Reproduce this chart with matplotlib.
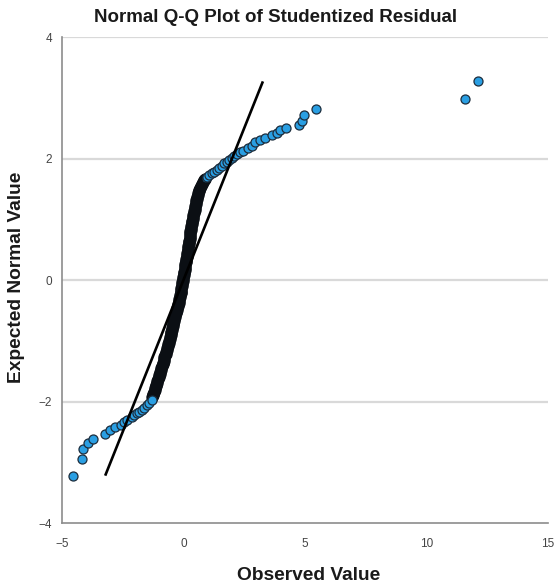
import matplotlib
matplotlib.use('Agg')
import matplotlib.pyplot as plt
import numpy as np

plt.rcParams['font.family'] = ['Liberation Sans', 'DejaVu Sans']

# lower tail (observed, expected)
low_obs = [-4.53, -4.19, -4.12, -3.92, -3.71, -3.23, -3.02, -2.82, -2.57, -2.45,
           -2.34, -2.13, -2.03, -1.93, -1.82, -1.72, -1.62, -1.51, -1.41, -1.31]
low_exp = [-3.23, -2.94, -2.78, -2.69, -2.61, -2.54, -2.47, -2.42, -2.38, -2.34,
           -2.30, -2.25, -2.22, -2.19, -2.17, -2.14, -2.10, -2.06, -2.02, -1.98]

# dense middle part of the curve
mid_exp = [-1.93, -1.90, -1.87, -1.84, -1.81, -1.78, -1.75, -1.72, -1.69, -1.66,
           -1.63, -1.60, -1.57, -1.54, -1.51, -1.48, -1.45, -1.42, -1.39, -1.36,
           -1.33, -1.30, -1.27, -1.24, -1.21, -1.18, -1.15, -1.12, -1.09, -1.06,
           -1.03, -1.00, -0.97, -0.94, -0.91, -0.88, -0.85, -0.82, -0.79, -0.76,
           -0.73, -0.70, -0.67, -0.64, -0.61, -0.58, -0.55, -0.52, -0.49, -0.46,
           -0.43, -0.40, -0.37, -0.34, -0.31, -0.28, -0.25, -0.22, -0.19, -0.16,
           -0.13, -0.10, -0.07, -0.04, -0.01, 0.02, 0.05, 0.08, 0.11, 0.14,
           0.17, 0.20, 0.23, 0.26, 0.29, 0.32, 0.35, 0.38, 0.41, 0.44,
           0.47, 0.50, 0.53, 0.56, 0.59, 0.62, 0.65, 0.68, 0.71, 0.74,
           0.77, 0.80, 0.83, 0.86, 0.89, 0.92, 0.95, 0.98, 1.01, 1.04,
           1.07, 1.10, 1.13, 1.16, 1.19, 1.22, 1.25, 1.28, 1.31, 1.34,
           1.37, 1.40, 1.43, 1.46, 1.49, 1.52, 1.55, 1.58, 1.61, 1.64, 1.67]
mid_obs = [-1.29, -1.26, -1.24, -1.21, -1.19, -1.17, -1.14, -1.12, -1.09, -1.07,
           -1.05, -1.02, -1.00, -0.97, -0.95, -0.93, -0.91, -0.88, -0.86, -0.84,
           -0.82, -0.80, -0.78, -0.75, -0.73, -0.71, -0.69, -0.67, -0.65, -0.63,
           -0.61, -0.59, -0.57, -0.55, -0.53, -0.52, -0.50, -0.48, -0.46, -0.45,
           -0.43, -0.41, -0.39, -0.37, -0.36, -0.34, -0.32, -0.30, -0.28, -0.26,
           -0.24, -0.22, -0.20, -0.18, -0.17, -0.15, -0.14, -0.12, -0.11, -0.09,
           -0.08, -0.07, -0.05, -0.04, -0.02, -0.01, 0.00, 0.01, 0.02, 0.04,
           0.05, 0.06, 0.07, 0.08, 0.10, 0.11, 0.12, 0.13, 0.14, 0.16,
           0.17, 0.18, 0.19, 0.20, 0.21, 0.22, 0.24, 0.25, 0.26, 0.27,
           0.28, 0.29, 0.31, 0.32, 0.33, 0.35, 0.36, 0.37, 0.38, 0.40,
           0.41, 0.43, 0.44, 0.46, 0.47, 0.49, 0.50, 0.52, 0.53, 0.55,
           0.57, 0.59, 0.61, 0.63, 0.65, 0.68, 0.71, 0.75, 0.79, 0.83, 0.88]

# upper tail
up_obs = [0.95, 1.06, 1.16, 1.27, 1.37, 1.47, 1.57, 1.68, 1.78, 1.88,
          1.98, 2.08, 2.19, 2.32, 2.44, 2.67, 2.81, 2.94, 3.15, 3.35,
          3.63, 3.86, 3.97, 4.22, 4.77, 4.88, 4.97, 5.44, 11.58, 12.12]
up_exp = [1.70, 1.73, 1.76, 1.78, 1.81, 1.85, 1.88, 1.92, 1.95, 1.98,
          2.01, 2.04, 2.07, 2.10, 2.12, 2.17, 2.21, 2.28, 2.30, 2.33,
          2.38, 2.42, 2.47, 2.50, 2.55, 2.62, 2.72, 2.81, 2.98, 3.28]

ref_line = [-3.2, 3.25]

fig = plt.figure(figsize=(5.58, 5.88), dpi=100)
ax = fig.add_axes([0.111, 0.1105, 0.871, 0.8265])

for yv in [-2, 0, 2, 4]:
    ax.axhline(yv, color='#d9d9d9', linewidth=1.6, zorder=0)

# the middle is so crowded that the marker edges merge into a dark band
ax.plot(mid_obs, mid_exp, 'o', markersize=6.5, markerfacecolor='#1a5f8a',
        markeredgecolor='#0b0f14', markeredgewidth=2.4, zorder=2)
ax.plot(low_obs, low_exp, 'o', markersize=6.5, markerfacecolor='#2a9fe3',
        markeredgecolor='#1c2d3d', markeredgewidth=0.9, zorder=2)
ax.plot(up_obs, up_exp, 'o', markersize=6.5, markerfacecolor='#2a9fe3',
        markeredgecolor='#1c2d3d', markeredgewidth=0.9, zorder=2)
ax.plot(ref_line, ref_line, color='black', linewidth=1.9, zorder=3)

ax.set_xlim(-5, 15)
ax.set_ylim(-4, 4)
ax.set_xticks([-5, 0, 5, 10, 15])
ax.set_yticks([-4, -2, 0, 2, 4])
ax.tick_params(length=0, labelsize=8.5, colors='#444444')
ax.tick_params(axis='x', pad=11)
ax.tick_params(axis='y', pad=7)
for s in ['top', 'right']:
    ax.spines[s].set_visible(False)
for s in ['left', 'bottom']:
    ax.spines[s].set_color('#8c8c8c')
    ax.spines[s].set_linewidth(1.2)

fig.text(0.493, 1 - 18 / 588, 'Normal Q-Q Plot of Studentized Residual',
         ha='center', va='center', fontsize=13.5, fontweight='bold', color='#1a1a1a')
fig.text(0.553, 1 - 576 / 588, 'Observed Value', ha='center', va='center',
         fontsize=13.8, fontweight='bold', color='#1a1a1a')
fig.text(17 / 558, 1 - 277 / 588, 'Expected Normal Value', ha='center', va='center',
         rotation=90, fontsize=13.8, fontweight='bold', color='#1a1a1a')

fig.savefig('out.png', dpi=100)
